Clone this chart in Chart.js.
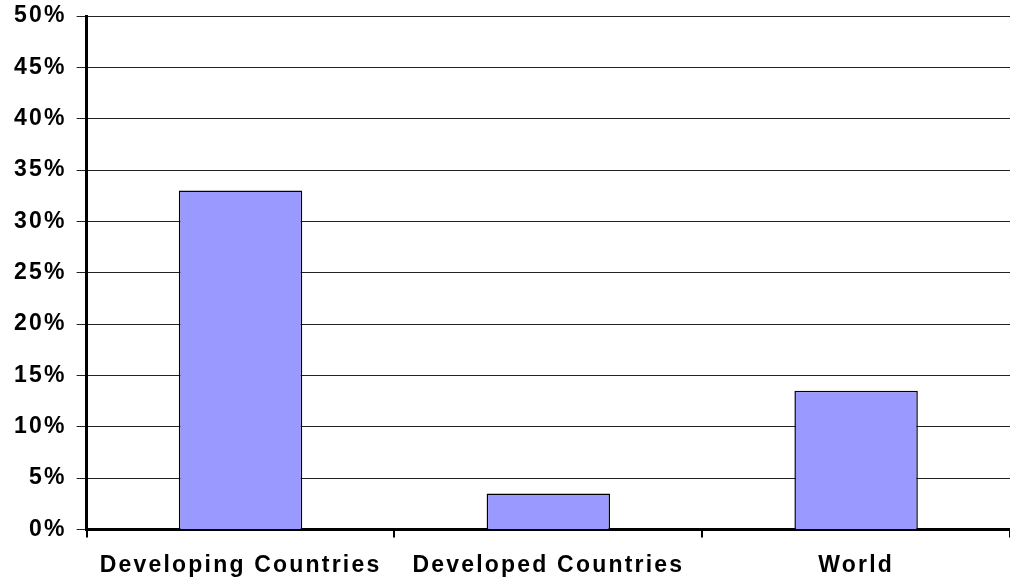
<!DOCTYPE html>
<html>
<head>
<meta charset="utf-8">
<script src="https://cdn.jsdelivr.net/npm/chart.js@4/dist/chart.umd.min.js"></script>
<style>
  html, body { margin: 0; padding: 0; background: #fff; }
  #wrap { width: 1010px; height: 578px; }
</style>
</head>
<body>
<div id="wrap"><canvas id="chart"></canvas></div>
<script>
// values (percent)
const categories = ['Developing Countries', 'Developed Countries', 'World'];
const shares = [33, 3.5, 13.5];
const yTicks = [0, 5, 10, 15, 20, 25, 30, 35, 40, 45, 50];

// the reference text is wide, so space the letters out a bit
const wideText = {
    id: 'wideText',
    beforeLayout: chart => { chart.ctx.letterSpacing = '2.2px'; },
    beforeDraw: chart => { chart.ctx.letterSpacing = '2.2px'; }
};

document.addEventListener("DOMContentLoaded", function() {
    const labelFont = { family: "'Liberation Sans', Arial, sans-serif", size: 23, weight: 'bold' };

    const ctx = document.getElementById('chart').getContext('2d');
    new Chart(ctx, {
        type: 'bar',
        data: {
            labels: categories,
            datasets: [{
                data: shares,
                backgroundColor: '#9999ff',
                borderColor: '#000000',
                borderWidth: 1.5,
                barPercentage: 0.401,
                categoryPercentage: 1
            }]
        },
        options: {
            responsive: true,
            maintainAspectRatio: false,
            animation: false,
            // the plot runs a little past the right edge in the original
            layout: { padding: { left: 4, right: -10, top: 16, bottom: -15 } },
            plugins: {
                legend: { display: false },
                tooltip: { enabled: false }
            },
            scales: {
                x: {
                    afterFit: axis => {
                        axis.paddingRight = -10;
                    },
                    grid: {
                        offset: true,
                        drawOnChartArea: false,
                        color: '#000',
                        lineWidth: 2,
                        tickLength: 8
                    },
                    border: { color: '#000', width: 3 },
                    ticks: { color: '#000', font: labelFont, padding: 14, maxRotation: 0 }
                },
                y: {
                    min: 0,
                    max: 50,
                    afterBuildTicks: axis => {
                        axis.ticks = yTicks.map(v => ({ value: v }));
                    },
                    afterFit: axis => {
                        axis.paddingTop = 0;
                        axis.paddingBottom = 0;
                        axis.paddingRight = -10;
                    },
                    grid: {
                        color: '#222',
                        lineWidth: 1,
                        tickLength: 10
                    },
                    border: { color: '#000', width: 3 },
                    ticks: {
                        color: '#000',
                        font: labelFont,
                        padding: 10,
                        callback: value => value + '%'
                    }
                }
            }
        },
        plugins: [wideText]
    });
});
</script>
</body>
</html>
